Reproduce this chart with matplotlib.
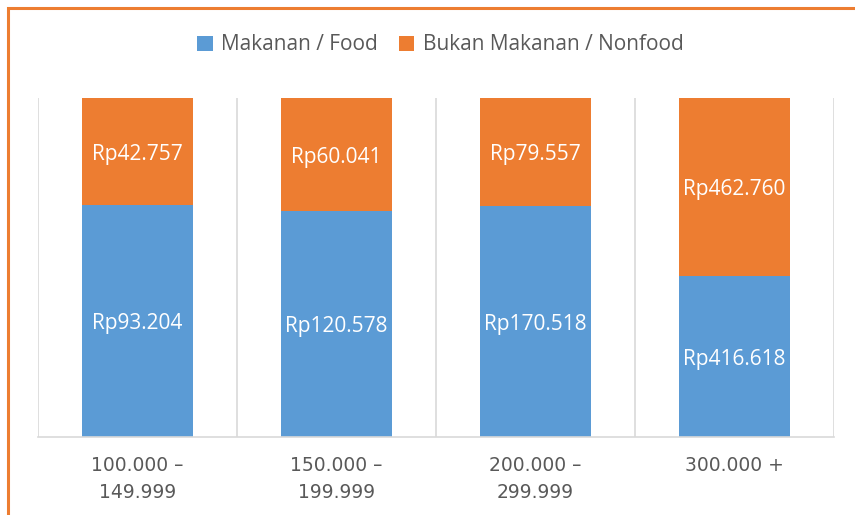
import numpy as np
import matplotlib.pyplot as plt
from matplotlib.patches import Rectangle

# Data
categories = ["100.000 –\n149.999", "150.000 –\n199.999", "200.000 –\n299.999", "300.000 +"]
food = [93204, 120578, 170518, 416618]
nonfood = [42757, 60041, 79557, 462760]

def rp(v):
    return "Rp" + f"{v:,}".replace(",", ".")

food_arr = np.array(food, dtype=float)
nonfood_arr = np.array(nonfood, dtype=float)
total = food_arr + nonfood_arr
food_pct = food_arr / total
nonfood_pct = nonfood_arr / total

blue = "#5B9BD5"
orange = "#ED7D31"
grey_text = "#595959"
grid_col = "#D9D9D9"

fig = plt.figure(figsize=(8.55, 5.15), dpi=100)
ax = fig.add_axes([38 / 855, 1 - 437 / 515, (834 - 38) / 855, (437 - 98) / 515])

x = np.arange(len(categories))
ax.bar(x, food_pct, width=0.56, color=blue, label="Makanan / Food")
ax.bar(x, nonfood_pct, width=0.56, bottom=food_pct, color=orange, label="Bukan Makanan / Nonfood")

# Data labels
for i in range(len(categories)):
    ax.text(x[i], food_pct[i] / 2 - 0.008, rp(food[i]), ha="center", va="center",
            color="white", fontsize=15, family="Open Sans")
    ax.text(x[i], food_pct[i] + nonfood_pct[i] / 2 - 0.008, rp(nonfood[i]), ha="center", va="center",
            color="white", fontsize=15, family="Open Sans")

ax.set_xlim(-0.5, len(categories) - 0.5)
ax.set_ylim(0, 1)
ax.set_yticks([])

# category separators
for b in np.arange(-0.5, len(categories), 1.0):
    ax.axvline(b, color=grid_col, lw=1.2, zorder=0)

for s in ["top", "left", "right"]:
    ax.spines[s].set_visible(False)
ax.spines["bottom"].set_color(grid_col)
ax.spines["bottom"].set_linewidth(1.2)

ax.set_xticks(x)
ax.set_xticklabels(categories, fontsize=13.5, color=grey_text, linespacing=1.5,
                   family="DejaVu Sans")
ax.tick_params(axis="x", length=0, pad=14)

fig.legend(loc="center", bbox_to_anchor=(0.515, 1 - 45 / 515), ncol=2, frameon=False,
           labelcolor=grey_text, handlelength=0.75, handleheight=0.75,
           handletextpad=0.4, columnspacing=1.0, prop={"family": "Open Sans", "size": 15})

# orange outer frame
fig.patches.append(Rectangle((8 / 855, -0.1), 1.2, 1 - 8 / 515 + 0.1, transform=fig.transFigure,
                             fill=False, edgecolor=orange, lw=2.2))

fig.savefig("out.png", dpi=100)
